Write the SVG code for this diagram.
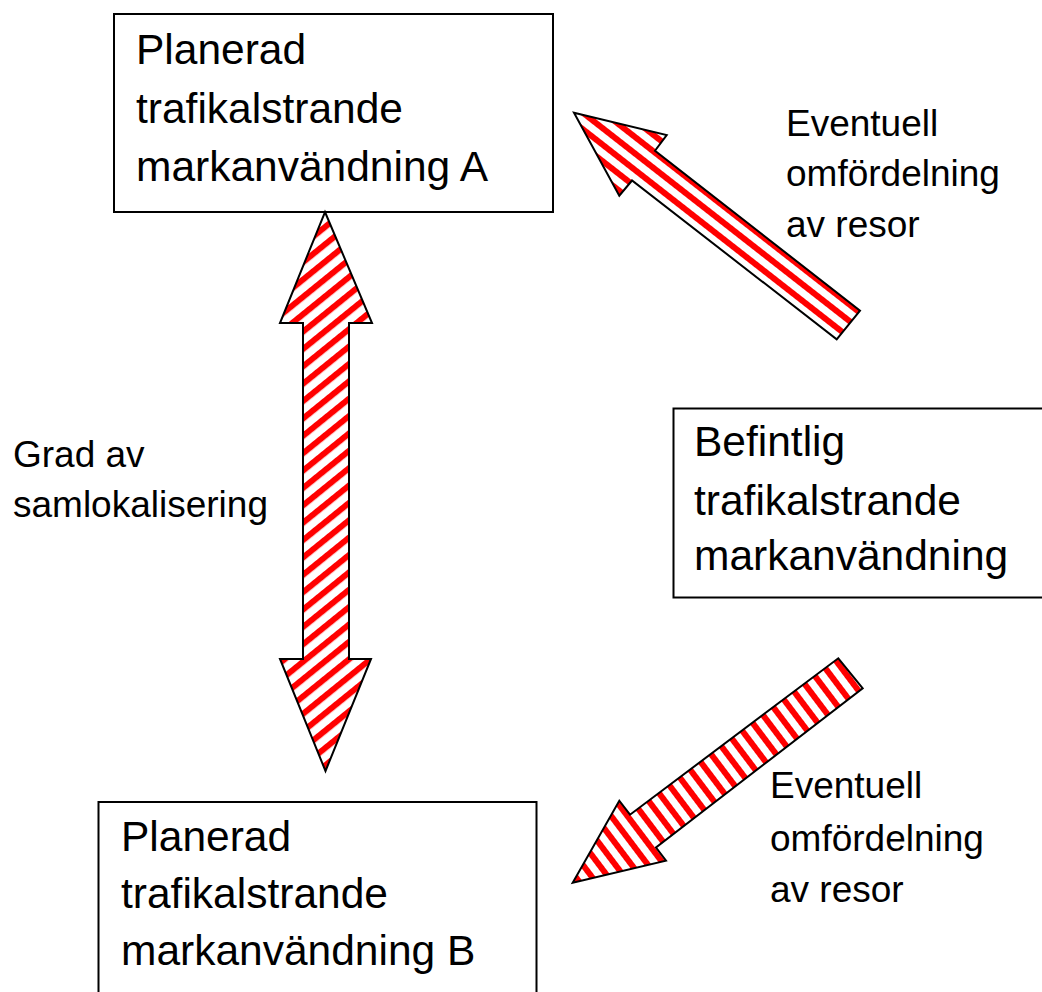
<svg xmlns="http://www.w3.org/2000/svg" width="1042" height="992" viewBox="0 0 1042 992">
<style>
.box{fill:#fff;stroke:#000;stroke-width:2}
.big{font-family:"Liberation Sans",Arial,sans-serif;font-size:42.5px;fill:#000}
.lbl{font-family:"Liberation Sans",Arial,sans-serif;font-size:37px;fill:#000}
.arrow{stroke:#000;stroke-width:2;stroke-linejoin:miter}
</style>
<defs>
<pattern id="stripeV" patternUnits="userSpaceOnUse" width="13.5" height="13.5" patternTransform="rotate(-39)">
<rect width="13.5" height="13.5" fill="#fff"/>
<rect y="0" width="13.5" height="6" fill="#f00"/>
</pattern>
<pattern id="stripeA" patternUnits="userSpaceOnUse" width="13" height="13" patternTransform="rotate(38)">
<rect width="13" height="13" fill="#fff"/>
<rect y="0" width="13" height="6" fill="#f00"/>
</pattern>
<pattern id="stripeB" patternUnits="userSpaceOnUse" width="13" height="13" patternTransform="rotate(53)">
<rect width="13" height="13" fill="#fff"/>
<rect y="0" width="13" height="6" fill="#f00"/>
</pattern>
</defs>
<rect width="1042" height="992" fill="#fff"/>

<g id="nodeA">
<rect class="box" x="114" y="14" width="439" height="198"/>
<text class="big" x="136" y="64">Planerad</text>
<text class="big" x="136" y="123">trafikalstrande</text>
<text class="big" x="136" y="181">markanvändning A</text>
</g>

<g id="nodeBefintlig">
<rect class="box" x="673.5" y="408.5" width="380" height="189"/>
<text class="big" x="694" y="456">Befintlig</text>
<text class="big" x="694" y="515">trafikalstrande</text>
<text class="big" x="694" y="570">markanvändning</text>
</g>

<g id="nodeB">
<rect class="box" x="98.5" y="802" width="438" height="200"/>
<text class="big" x="121" y="851">Planerad</text>
<text class="big" x="121" y="908">trafikalstrande</text>
<text class="big" x="121" y="965">markanvändning B</text>
</g>

<g id="connectors">
<polygon class="arrow" fill="url(#stripeV)" points="325,212 372,323 349,323 349,659 371,659 325.5,771 280,659 303,659 303,323 280,323"/>
<polygon class="arrow" fill="url(#stripeA)" points="574,112.7 666.7,135 655,150.7 860,310.7 836.7,339.3 632,180.5 619.3,195.7"/>
<polygon class="arrow" fill="url(#stripeB)" points="838.3,658.3 862.7,688.3 656,847.5 666,860.7 572.7,882.7 619.3,800.7 630,814.7"/>
</g>

<g id="labels">
<text class="lbl" x="13" y="467">Grad av</text>
<text class="lbl" x="13" y="517">samlokalisering</text>
<text class="lbl" x="786" y="136">Eventuell</text>
<text class="lbl" x="786" y="186">omfördelning</text>
<text class="lbl" x="786" y="237">av resor</text>
<text class="lbl" x="770" y="798">Eventuell</text>
<text class="lbl" x="770" y="851">omfördelning</text>
<text class="lbl" x="770" y="902">av resor</text>
</g>
</svg>
